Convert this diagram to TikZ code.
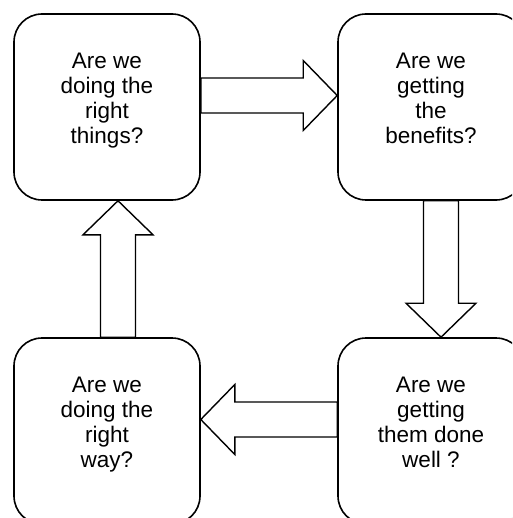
\documentclass[tikz,border=0pt]{standalone}
\usepackage{fontspec}
\setmainfont{Liberation Sans}
\usetikzlibrary{calc}
\begin{document}
\begin{tikzpicture}[x=1pt,y=1pt,
  question/.style={draw, line width=1.6pt, rounded corners=28pt,
    minimum width=186pt, minimum height=186pt, inner sep=0pt},
  qtext/.style={align=center, inner sep=0pt, anchor=north,
    font=\fontsize{22.5}{25}\selectfont},
  % hollow block arrow from the start point to the target point
  blockarrow/.style={draw, line width=1.4pt, fill=white, line join=miter,
    to path={let \p1=(\tikztostart), \p2=(\tikztotarget),
      \n1={veclen(\x2-\x1,\y2-\y1)}, \n2={atan2(\y2-\y1,\x2-\x1)} in
      ([shift={(\p1)},rotate=\n2]0pt,17.5pt)
      -- ([shift={(\p1)},rotate=\n2]\n1-34pt,17.5pt)
      -- ([shift={(\p1)},rotate=\n2]\n1-34pt,35pt)
      -- ([shift={(\p1)},rotate=\n2]\n1,0pt)
      -- ([shift={(\p1)},rotate=\n2]\n1-34pt,-35pt)
      -- ([shift={(\p1)},rotate=\n2]\n1-34pt,-17.5pt)
      -- ([shift={(\p1)},rotate=\n2]0pt,-17.5pt) -- cycle}}]
  \useasboundingbox (0,0) rectangle (512,-518);
  \clip (0,0) rectangle (512,-518);

  % the four questions
  \node[question] (q1) at (107,-107) {};
  \node[question] (q2) at (431,-107) {};
  \node[question] (q3) at (107,-431) {};
  \node[question] (q4) at (431,-431) {};

  \node[qtext] (t1) at ([yshift=-40pt]q1.north) {Are we\\doing the\\right\\things?};
  \node[qtext] (t2) at ([yshift=-40pt]q2.north) {Are we\\getting\\the\\benefits?};
  \node[qtext] (t3) at ([yshift=-40pt]q3.north) {Are we\\doing the\\right\\way?};
  \node[qtext] (t4) at ([yshift=-40pt]q4.north) {Are we\\getting\\them done\\well ?};

  % the cycle of block arrows
  \draw[blockarrow] ([yshift=11.5pt]q1.east) to ([yshift=11.5pt]q2.west);
  \draw[blockarrow] ([xshift=10pt]q2.south) to ([xshift=10pt]q4.north);
  \draw[blockarrow] ([yshift=11.5pt]q4.west) to ([yshift=11.5pt]q3.east);
  \draw[blockarrow] ([xshift=11pt]q3.north) to ([xshift=11pt]q1.south);
\end{tikzpicture}
\end{document}
